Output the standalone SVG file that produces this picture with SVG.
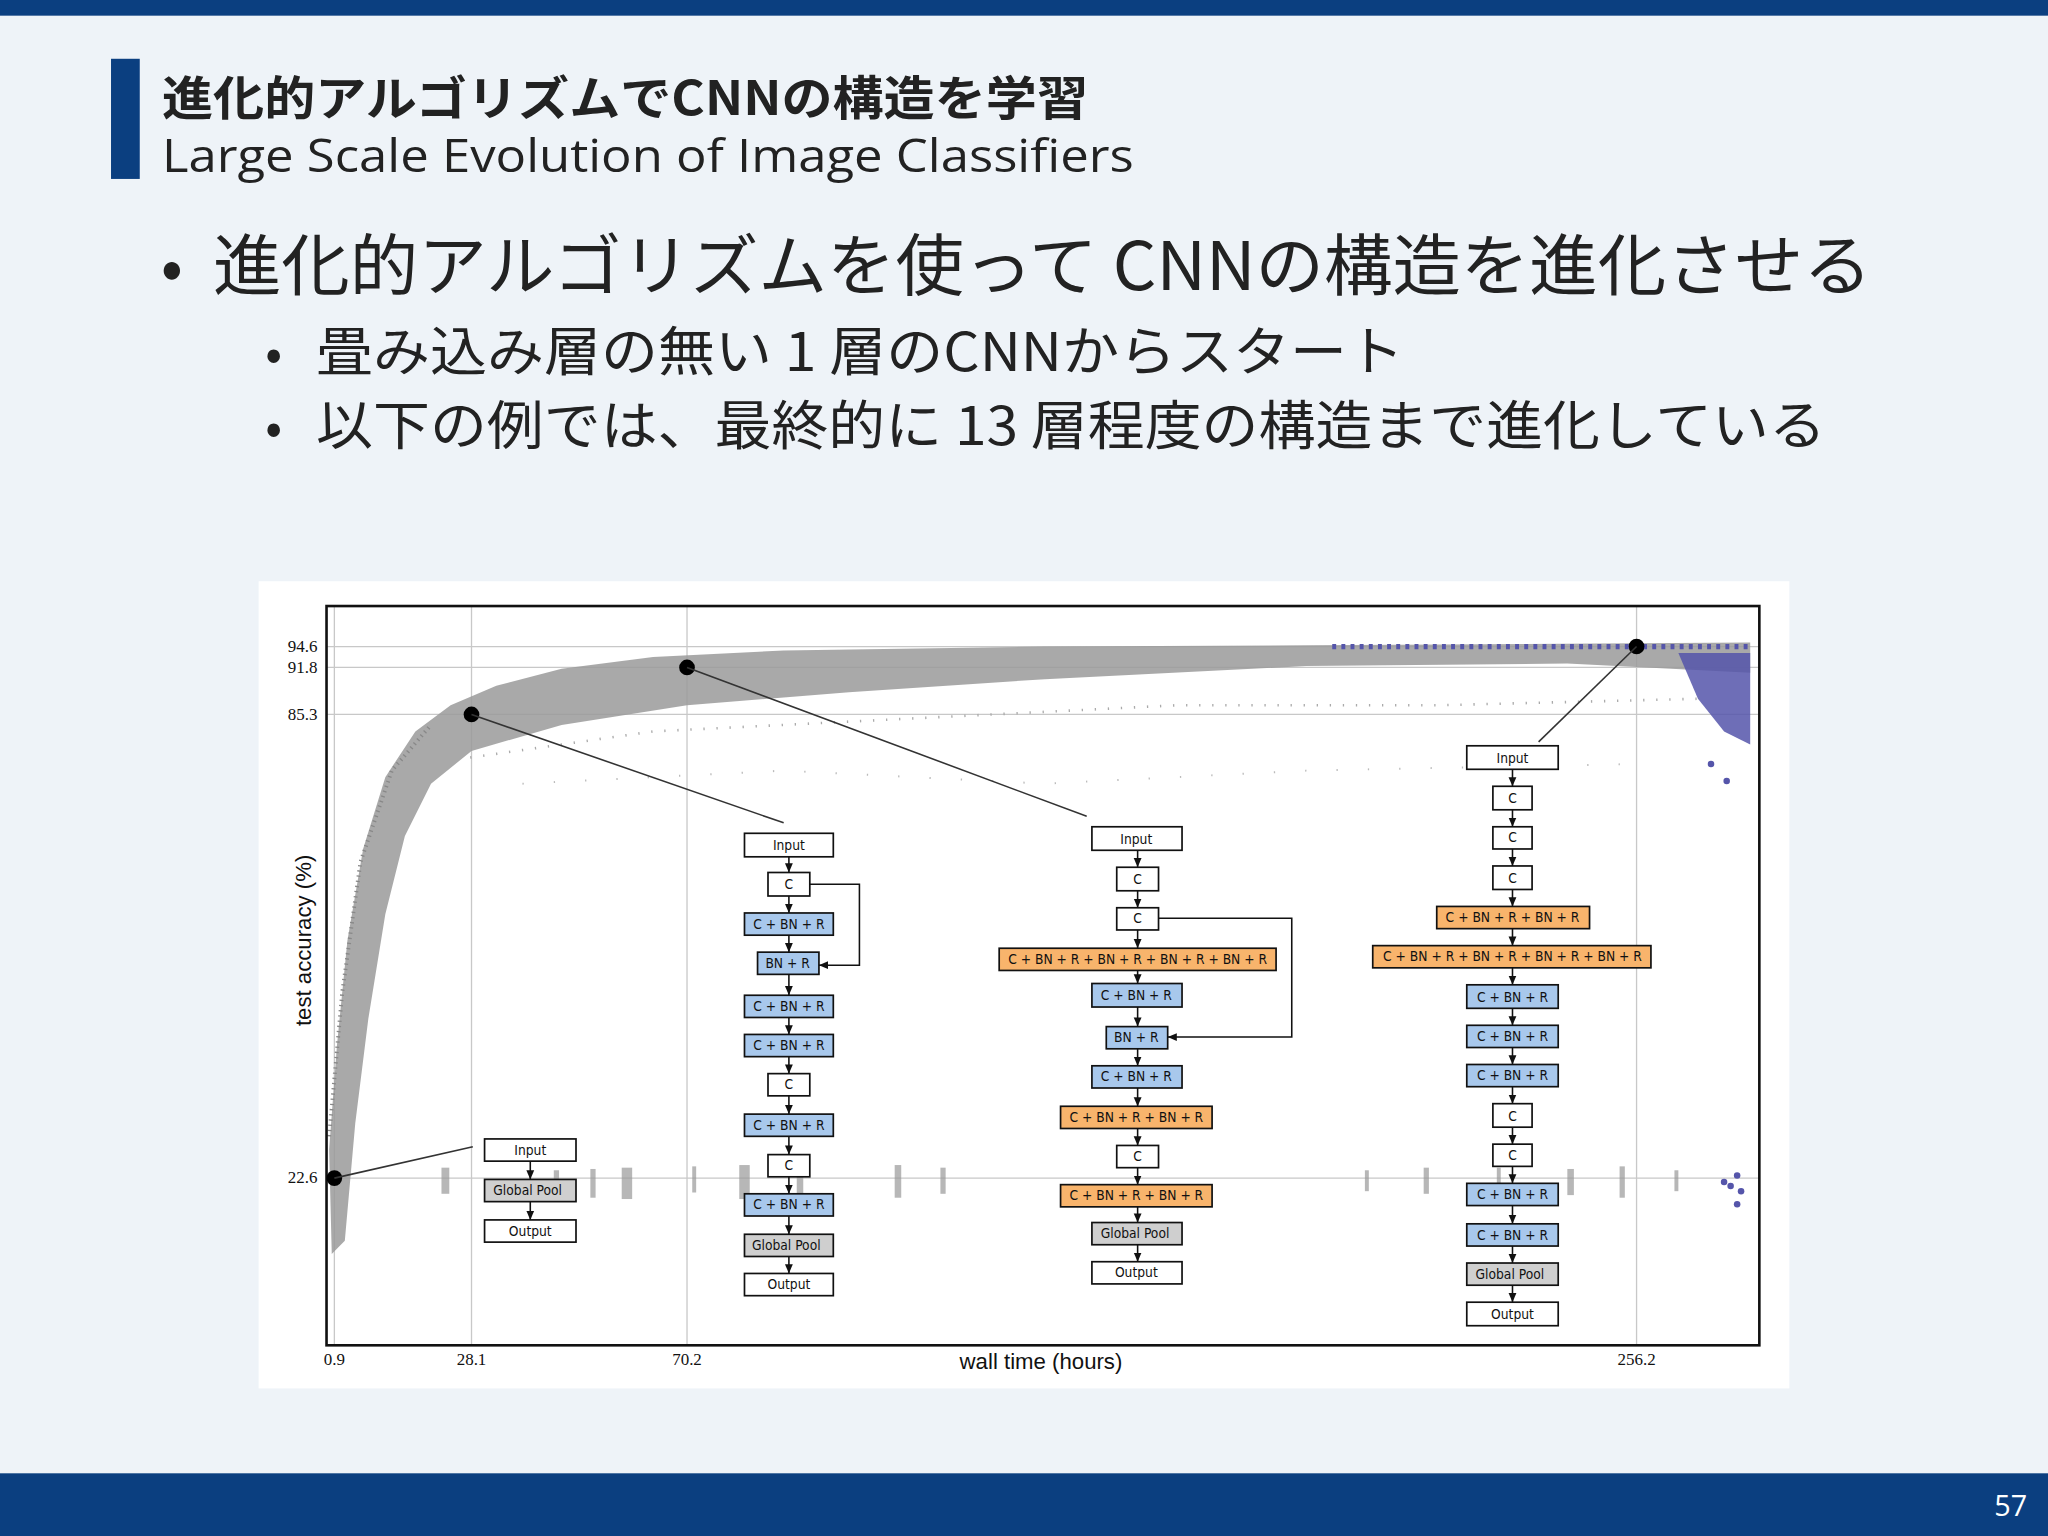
<svg xmlns="http://www.w3.org/2000/svg" width="2048" height="1536" viewBox="0 0 2048 1536">
<style>
.t{font-family:"Open Sans","Noto Sans CJK JP",sans-serif;fill:#222}
.j{font-family:"Noto Sans CJK JP","Noto Sans",sans-serif;fill:#222}
.b{stroke:#111;stroke-width:1.3}
.w{fill:#fff}.bl{fill:#a8c8ec}.or{fill:#f8b46c}.gr{fill:#cfcfcf}
.n{font-family:"DejaVu Sans Condensed","DejaVu Sans",sans-serif;font-size:10.5px;fill:#111;text-anchor:middle}
.tk{font-family:"Liberation Serif",serif;font-size:13px;fill:#111}
.g{stroke:#c8c8c8;stroke-width:1}
.c{stroke:#111;stroke-width:1.2;fill:none}
</style>
<defs>
<marker id="a" markerWidth="8" markerHeight="8" refX="7" refY="4" orient="auto" markerUnits="userSpaceOnUse"><path d="M0,1 L7,4 L0,7 z" fill="#111"/></marker>
</defs>
<rect width="2048" height="1536" fill="#eef3f8"/>
<g transform="scale(1.30612)">
<rect x="0" y="0" width="1568" height="12" fill="#0b3f80"/>
<rect x="0" y="1128" width="1568" height="48" fill="#0b3f80"/>
<text x="1552" y="1161" font-family="Open Sans,sans-serif" font-size="22" fill="#fff" text-anchor="end">57</text>
<rect x="85" y="45" width="22" height="92" fill="#0b3f80"/>
<text class="j" x="124" y="88" font-size="36" font-weight="bold" fill="#111" textLength="709" lengthAdjust="spacingAndGlyphs">進化的アルゴリズムでCNNの構造を学習</text>
<text class="t" x="124" y="132" font-size="35" textLength="744" lengthAdjust="spacingAndGlyphs">Large Scale Evolution of  Image Classifiers</text>
<text class="j" x="123" y="222" font-size="50" fill="#444">•</text>
<text class="j" x="163" y="222" font-size="51" textLength="1270" lengthAdjust="spacingAndGlyphs">進化的アルゴリズムを使って CNNの構造を進化させる</text>
<text class="j" x="203" y="284" font-size="38" fill="#444">•</text>
<text class="j" x="242" y="284" font-size="41" textLength="833" lengthAdjust="spacingAndGlyphs">畳み込み層の無い 1 層のCNNからスタート</text>
<text class="j" x="203" y="341" font-size="38" fill="#444">•</text>
<text class="j" x="242" y="341" font-size="41" textLength="1156" lengthAdjust="spacingAndGlyphs">以下の例では、最終的に 13 層程度の構造まで進化している</text>

<rect x="198" y="445" width="1172" height="618" fill="#fff"/>
<g id="grid">
<line class="g" x1="250" y1="495" x2="1347" y2="495"/>
<line class="g" x1="250" y1="511" x2="1347" y2="511"/>
<line class="g" x1="250" y1="547" x2="1347" y2="547"/>
<line class="g" x1="250" y1="902" x2="1347" y2="902"/>
<line class="g" x1="256" y1="464" x2="256" y2="1030"/>
<line class="g" x1="361" y1="464" x2="361" y2="1030"/>
<line class="g" x1="526" y1="464" x2="526" y2="1030"/>
<line class="g" x1="1253" y1="464" x2="1253" y2="1030"/>
</g>
<g id="scatter">
<path d="M252,880 L258,800 L266,720 L278,650 L295,595 L318,560 L345,540 L380,525 L430,512 L500,503 L600,498 L800,495 L1000,494 L1340,492 L1340,515 L1200,508 L1000,510 L800,520 L650,530 L526,540 L430,555 L361,575 L330,600 L310,640 L295,700 L282,780 L272,860 L264,950 L254,960 Z" fill="#9a9a9a" opacity="0.85"/>
<path d="M252,870 L262,760 L276,660 L300,590 L330,555" fill="none" stroke="#888" stroke-width="3" stroke-dasharray="1 3"/>
<path d="M360,580 L500,560 L700,550 L900,540 L1100,540 L1300,535" fill="none" stroke="#aaa" stroke-width="2" stroke-dasharray="1 9"/>
<path d="M400,600 L600,590 L800,600 L1000,590 L1250,585" fill="none" stroke="#bbb" stroke-width="1.5" stroke-dasharray="1 23"/>
<g fill="#999" opacity="0.7">
<rect x="338" y="894" width="6" height="20"/><rect x="424" y="896" width="4" height="18"/><rect x="452" y="895" width="4" height="22"/><rect x="476" y="894" width="8" height="24"/><rect x="530" y="893" width="3" height="20"/><rect x="566" y="892" width="8" height="26"/><rect x="610" y="893" width="5" height="22"/><rect x="685" y="892" width="5" height="25"/><rect x="720" y="894" width="4" height="20"/><rect x="1045" y="896" width="3" height="16"/><rect x="1090" y="894" width="4" height="20"/><rect x="1146" y="894" width="3" height="18"/><rect x="1200" y="895" width="5" height="20"/><rect x="1240" y="893" width="4" height="24"/><rect x="1282" y="896" width="3" height="16"/>
</g>
<path d="M1020,495 L1340,495" stroke="#5555aa" stroke-width="4" stroke-dasharray="3 4"/>
<path d="M1285,500 L1340,500 L1340,570 L1320,560 L1300,535 Z" fill="#5555aa" opacity="0.85"/>
<circle cx="1310" cy="585" r="2.5" fill="#5555aa"/><circle cx="1322" cy="598" r="2.5" fill="#5555aa"/>
<circle cx="1330" cy="900" r="2.5" fill="#5555aa"/><circle cx="1325" cy="908" r="2.5" fill="#5555aa"/><circle cx="1333" cy="912" r="2.5" fill="#5555aa"/><circle cx="1320" cy="905" r="2.5" fill="#5555aa"/><circle cx="1330" cy="922" r="2.5" fill="#5555aa"/>
</g>
<rect x="250" y="464" width="1097" height="566" fill="none" stroke="#111" stroke-width="2"/>
<g id="axes">
<text class="tk" x="243" y="499" text-anchor="end">94.6</text>
<text class="tk" x="243" y="515" text-anchor="end">91.8</text>
<text class="tk" x="243" y="551" text-anchor="end">85.3</text>
<text class="tk" x="243" y="906" text-anchor="end">22.6</text>
<text class="tk" x="256" y="1045" text-anchor="middle">0.9</text>
<text class="tk" x="361" y="1045" text-anchor="middle">28.1</text>
<text class="tk" x="526" y="1045" text-anchor="middle">70.2</text>
<text class="tk" x="1253" y="1045" text-anchor="middle">256.2</text>
<text x="797" y="1048" font-family="Liberation Sans,sans-serif" font-size="17" text-anchor="middle" fill="#111">wall time (hours)</text>
<text transform="translate(238,720) rotate(-90)" font-family="Liberation Sans,sans-serif" font-size="17" text-anchor="middle" fill="#111">test accuracy (%)</text>
</g>
<g id="points" fill="#000">
<circle cx="256" cy="902" r="6"/><circle cx="361" cy="547" r="6"/><circle cx="526" cy="511" r="6"/><circle cx="1253" cy="495" r="6"/>
</g>

<g id="d1">
<g id="d1-input"><rect class="b w" x="371" y="872" width="70" height="17"/><text class="n" x="406" y="884">Input</text></g>
<g id="d1-pool"><rect class="b gr" x="371" y="903" width="70" height="17"/><text class="n" x="404" y="915">Global Pool</text></g>
<g id="d1-output"><rect class="b w" x="371" y="934" width="70" height="17"/><text class="n" x="406" y="946">Output</text></g>
</g>
<g id="d2">
<g id="d2-input"><rect class="b w" x="570" y="638" width="68" height="18"/><text class="n" x="604" y="651">Input</text></g>
<g id="d2-c1"><rect class="b w" x="588" y="668" width="32" height="18"/><text class="n" x="604" y="681">C</text></g>
<g id="d2-cbr1"><rect class="b bl" x="570" y="699" width="68" height="17"/><text class="n" x="604" y="711">C + BN + R</text></g>
<g id="d2-bnr"><rect class="b bl" x="580" y="729" width="47" height="17"/><text class="n" x="603" y="741">BN + R</text></g>
<g id="d2-cbr2"><rect class="b bl" x="570" y="762" width="68" height="17"/><text class="n" x="604" y="774">C + BN + R</text></g>
<g id="d2-cbr3"><rect class="b bl" x="570" y="792" width="68" height="17"/><text class="n" x="604" y="804">C + BN + R</text></g>
<g id="d2-c2"><rect class="b w" x="588" y="822" width="32" height="17"/><text class="n" x="604" y="834">C</text></g>
<g id="d2-cbr4"><rect class="b bl" x="570" y="853" width="68" height="17"/><text class="n" x="604" y="865">C + BN + R</text></g>
<g id="d2-c3"><rect class="b w" x="588" y="884" width="32" height="17"/><text class="n" x="604" y="896">C</text></g>
<g id="d2-cbr5"><rect class="b bl" x="570" y="914" width="68" height="17"/><text class="n" x="604" y="926">C + BN + R</text></g>
<g id="d2-pool"><rect class="b gr" x="570" y="945" width="68" height="17"/><text class="n" x="602" y="957">Global Pool</text></g>
<g id="d2-output"><rect class="b w" x="570" y="975" width="68" height="17"/><text class="n" x="604" y="987">Output</text></g>
</g>
<g id="d3">
<g id="d3-input"><rect class="b w" x="836" y="633" width="69" height="18"/><text class="n" x="870" y="646">Input</text></g>
<g id="d3-c1"><rect class="b w" x="855" y="664" width="32" height="18"/><text class="n" x="871" y="677">C</text></g>
<g id="d3-c2"><rect class="b w" x="855" y="695" width="32" height="17"/><text class="n" x="871" y="707">C</text></g>
<g id="d3-o1"><rect class="b or" x="765" y="726" width="212" height="17"/><text class="n" x="871" y="738">C + BN + R + BN + R + BN + R + BN + R</text></g>
<g id="d3-cbr1"><rect class="b bl" x="836" y="753" width="69" height="18"/><text class="n" x="870" y="766">C + BN + R</text></g>
<g id="d3-bnr"><rect class="b bl" x="847" y="786" width="47" height="17"/><text class="n" x="870" y="798">BN + R</text></g>
<g id="d3-cbr2"><rect class="b bl" x="836" y="816" width="69" height="17"/><text class="n" x="870" y="828">C + BN + R</text></g>
<g id="d3-o2"><rect class="b or" x="812" y="847" width="116" height="17"/><text class="n" x="870" y="859">C + BN + R + BN + R</text></g>
<g id="d3-c3"><rect class="b w" x="855" y="877" width="32" height="17"/><text class="n" x="871" y="889">C</text></g>
<g id="d3-o3"><rect class="b or" x="812" y="907" width="116" height="17"/><text class="n" x="870" y="919">C + BN + R + BN + R</text></g>
<g id="d3-pool"><rect class="b gr" x="836" y="936" width="69" height="17"/><text class="n" x="869" y="948">Global Pool</text></g>
<g id="d3-output"><rect class="b w" x="836" y="966" width="69" height="17"/><text class="n" x="870" y="978">Output</text></g>
</g>
<g id="d4">
<g id="d4-input"><rect class="b w" x="1123" y="571" width="70" height="18"/><text class="n" x="1158" y="584">Input</text></g>
<g id="d4-c1"><rect class="b w" x="1143" y="602" width="30" height="18"/><text class="n" x="1158" y="615">C</text></g>
<g id="d4-c2"><rect class="b w" x="1143" y="633" width="30" height="17"/><text class="n" x="1158" y="645">C</text></g>
<g id="d4-c3"><rect class="b w" x="1143" y="663" width="30" height="18"/><text class="n" x="1158" y="676">C</text></g>
<g id="d4-o1"><rect class="b or" x="1100" y="694" width="117" height="17"/><text class="n" x="1158" y="706">C + BN + R + BN + R</text></g>
<g id="d4-o2"><rect class="b or" x="1051" y="724" width="213" height="17"/><text class="n" x="1158" y="736">C + BN + R + BN + R + BN + R + BN + R</text></g>
<g id="d4-cbr1"><rect class="b bl" x="1123" y="754" width="70" height="18"/><text class="n" x="1158" y="767">C + BN + R</text></g>
<g id="d4-cbr2"><rect class="b bl" x="1123" y="785" width="70" height="17"/><text class="n" x="1158" y="797">C + BN + R</text></g>
<g id="d4-cbr3"><rect class="b bl" x="1123" y="815" width="70" height="17"/><text class="n" x="1158" y="827">C + BN + R</text></g>
<g id="d4-c4"><rect class="b w" x="1143" y="845" width="30" height="18"/><text class="n" x="1158" y="858">C</text></g>
<g id="d4-c5"><rect class="b w" x="1143" y="876" width="30" height="17"/><text class="n" x="1158" y="888">C</text></g>
<g id="d4-cbr4"><rect class="b bl" x="1123" y="906" width="70" height="17"/><text class="n" x="1158" y="918">C + BN + R</text></g>
<g id="d4-cbr5"><rect class="b bl" x="1123" y="937" width="70" height="17"/><text class="n" x="1158" y="949">C + BN + R</text></g>
<g id="d4-pool"><rect class="b gr" x="1123" y="967" width="70" height="17"/><text class="n" x="1156" y="979">Global Pool</text></g>
<g id="d4-output"><rect class="b w" x="1123" y="997" width="70" height="18"/><text class="n" x="1158" y="1010">Output</text></g>
</g>

<g id="connectors" class="c">
<line x1="256" y1="902" x2="362" y2="878" stroke="#333"/>
<line x1="361" y1="547" x2="600" y2="630" stroke="#333"/>
<line x1="526" y1="511" x2="832" y2="625" stroke="#333"/>
<line x1="1253" y1="495" x2="1178" y2="568" stroke="#333"/>
<g marker-end="url(#a)">
<line x1="406" y1="889" x2="406" y2="903"/><line x1="406" y1="920" x2="406" y2="934"/>
<line x1="604" y1="656" x2="604" y2="668"/><line x1="604" y1="686" x2="604" y2="699"/><line x1="604" y1="716" x2="604" y2="729"/><line x1="604" y1="746" x2="604" y2="762"/><line x1="604" y1="779" x2="604" y2="792"/><line x1="604" y1="809" x2="604" y2="822"/><line x1="604" y1="839" x2="604" y2="853"/><line x1="604" y1="870" x2="604" y2="884"/><line x1="604" y1="901" x2="604" y2="914"/><line x1="604" y1="931" x2="604" y2="945"/><line x1="604" y1="962" x2="604" y2="975"/>
<polyline points="620,677 658,677 658,739 627,739"/>
<line x1="871" y1="651" x2="871" y2="664"/><line x1="871" y1="682" x2="871" y2="695"/><line x1="871" y1="712" x2="871" y2="726"/><line x1="871" y1="743" x2="871" y2="753"/><line x1="871" y1="771" x2="871" y2="786"/><line x1="871" y1="803" x2="871" y2="816"/><line x1="871" y1="833" x2="871" y2="847"/><line x1="871" y1="864" x2="871" y2="877"/><line x1="871" y1="894" x2="871" y2="907"/><line x1="871" y1="924" x2="871" y2="936"/><line x1="871" y1="953" x2="871" y2="966"/>
<polyline points="887,703 989,703 989,794 894,794"/>
<line x1="1158" y1="589" x2="1158" y2="602"/><line x1="1158" y1="620" x2="1158" y2="633"/><line x1="1158" y1="650" x2="1158" y2="663"/><line x1="1158" y1="681" x2="1158" y2="694"/><line x1="1158" y1="711" x2="1158" y2="724"/><line x1="1158" y1="741" x2="1158" y2="754"/><line x1="1158" y1="772" x2="1158" y2="785"/><line x1="1158" y1="802" x2="1158" y2="815"/><line x1="1158" y1="832" x2="1158" y2="845"/><line x1="1158" y1="863" x2="1158" y2="876"/><line x1="1158" y1="893" x2="1158" y2="906"/><line x1="1158" y1="923" x2="1158" y2="937"/><line x1="1158" y1="954" x2="1158" y2="967"/><line x1="1158" y1="984" x2="1158" y2="997"/>
</g>
</g>
</g>
</svg>
